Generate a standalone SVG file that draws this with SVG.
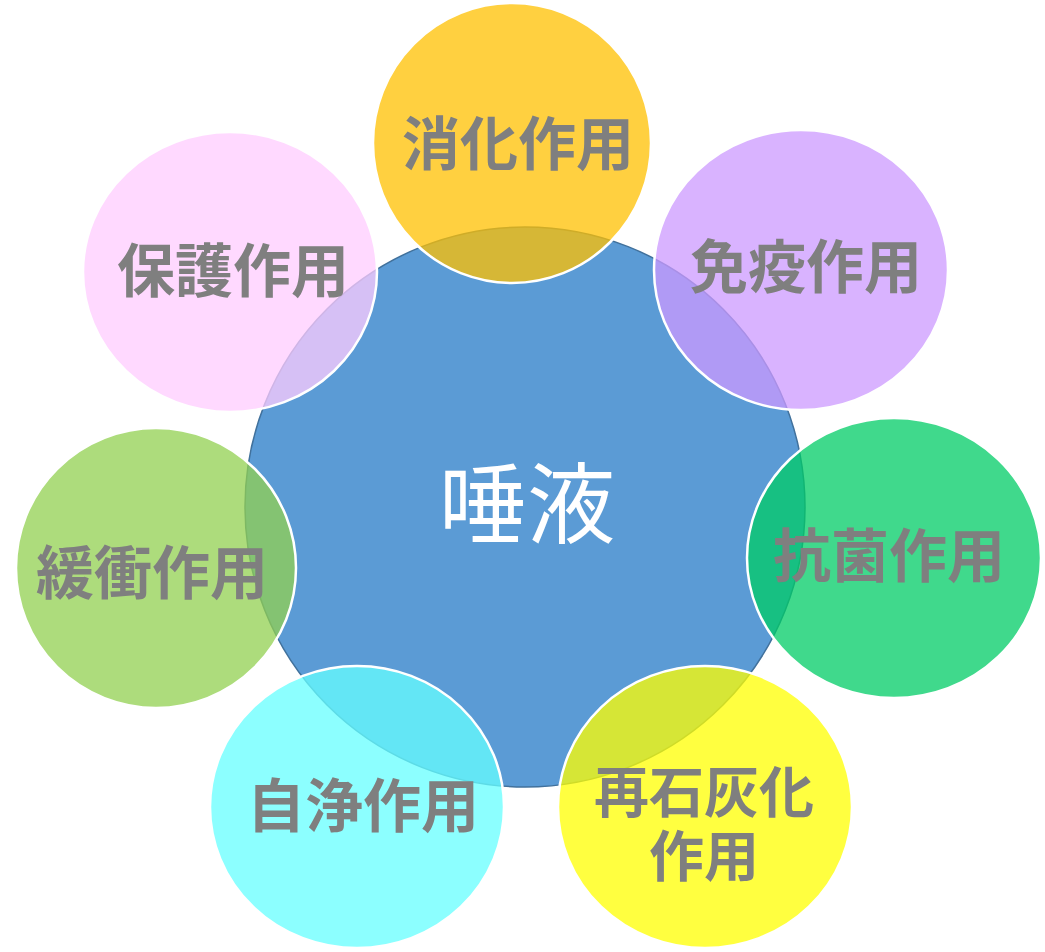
<svg xmlns="http://www.w3.org/2000/svg" width="1045" height="952" viewBox="0 0 1045 952">
<style>
.bub{fill-opacity:0.75;stroke:#FFFFFF;stroke-width:2.5}
.lbl{font-family:"Noto Sans CJK JP","Noto Sans CJK SC",sans-serif;font-weight:bold;font-size:58px;fill:#7F7F7F;text-anchor:middle;dominant-baseline:central}
.lbl2{font-size:55px}
.main{font-family:"Noto Sans CJK JP","Noto Sans CJK SC",sans-serif;font-weight:normal;font-size:88px;fill:#FFFFFF;text-anchor:middle;dominant-baseline:central}
</style>
<rect width="1045" height="952" fill="#FFFFFF"/>
<g id="center">
<circle cx="525" cy="507" r="280" fill="#5B9BD5" stroke="#41719C" stroke-width="1.5"/>
<text class="main" x="527" y="497">唾液</text>
</g>
<g id="connectors"/>
<g id="n-digest">
<ellipse class="bub" cx="512" cy="143" rx="139" ry="140" fill="#FFC000"/>
<text class="lbl" x="518" y="140">消化作用</text>
</g>
<g id="n-immune">
<ellipse class="bub" cx="801" cy="270" rx="147" ry="140" fill="#CC99FF"/>
<text class="lbl" x="806" y="263">免疫作用</text>
</g>
<g id="n-antibac">
<ellipse class="bub" cx="894" cy="558" rx="147" ry="140" fill="#00CC66"/>
<text class="lbl" x="889" y="552">抗菌作用</text>
</g>
<g id="n-remin">
<ellipse class="bub" cx="705" cy="807" rx="147" ry="141" fill="#FFFF00"/>
<text class="lbl lbl2"><tspan x="704" y="788">再石灰化</tspan><tspan x="704" dy="64">作用</tspan></text>
</g>
<g id="n-clean">
<ellipse class="bub" cx="357" cy="807" rx="147" ry="141" fill="#66FFFF"/>
<text class="lbl" x="363" y="802">自浄作用</text>
</g>
<g id="n-buffer">
<ellipse class="bub" cx="156" cy="568" rx="140" ry="140" fill="#92D050"/>
<text class="lbl" x="152" y="569">緩衝作用</text>
</g>
<g id="n-protect">
<ellipse class="bub" cx="230" cy="272" rx="147" ry="140" fill="#FFCCFF"/>
<text class="lbl" x="233" y="267">保護作用</text>
</g>
</svg>
